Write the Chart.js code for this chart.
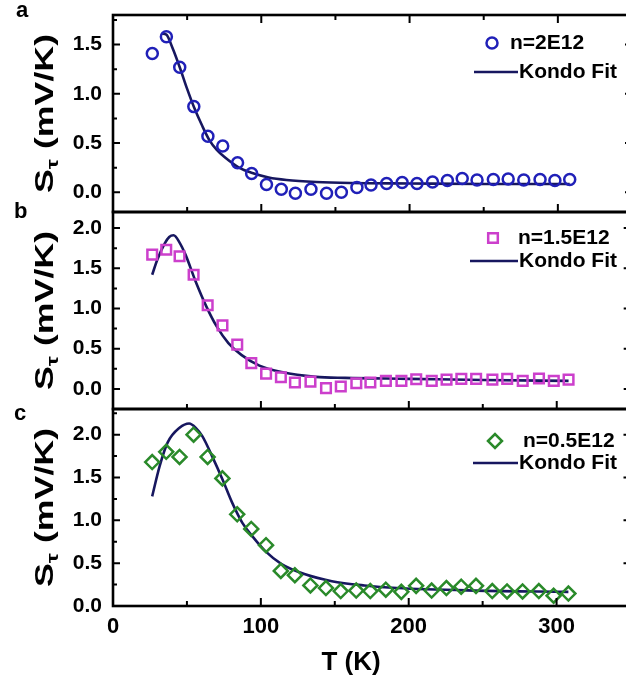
<!DOCTYPE html>
<html><head><meta charset="utf-8">
<script src="https://cdn.jsdelivr.net/npm/chart.js@4.4.1/dist/chart.umd.min.js"></script>
<style>
html,body{margin:0;padding:0;background:#fff;width:626px;height:683px;overflow:hidden;position:relative}
canvas{position:absolute;left:0}
</style></head><body>
<canvas id="ca" width="640" height="232" style="top:0px"></canvas>
<canvas id="cb" width="640" height="239" style="top:190px"></canvas>
<canvas id="cc" width="640" height="296" style="top:387px"></canvas>
<script>
// ---- data ----
const temps = [26.5, 36, 45, 54.5, 64, 74, 84, 93.5, 103.5, 113.5, 123, 133.5, 144, 154, 164.5, 174, 184.5, 195, 205, 215.5, 225.5, 235.5, 245.5, 256.5, 266.5, 277, 288, 298, 308];
const seebeckA = [1.41, 1.58, 1.27, 0.87, 0.57, 0.47, 0.30, 0.19, 0.08, 0.03, -0.01, 0.03, -0.01, 0.00, 0.05, 0.075, 0.09, 0.10, 0.09, 0.105, 0.12, 0.14, 0.125, 0.13, 0.135, 0.125, 0.13, 0.12, 0.13];
const seebeckB = [1.67, 1.73, 1.65, 1.42, 1.04, 0.79, 0.55, 0.32, 0.19, 0.145, 0.08, 0.09, 0.01, 0.03, 0.07, 0.08, 0.10, 0.10, 0.12, 0.10, 0.115, 0.125, 0.125, 0.115, 0.125, 0.10, 0.13, 0.10, 0.115];
const seebeckC = [1.68, 1.80, 1.74, 2.00, 1.74, 1.49, 1.07, 0.90, 0.71, 0.41, 0.36, 0.24, 0.21, 0.175, 0.18, 0.175, 0.19, 0.165, 0.235, 0.18, 0.21, 0.225, 0.235, 0.175, 0.17, 0.17, 0.175, 0.12, 0.145];
const fitTempsA = [33, 36, 40, 45, 50, 55, 60, 65, 70, 75, 85, 95, 105, 117, 137, 160, 200, 250, 308];
const fitValuesA = [1.61, 1.60, 1.47, 1.27, 1.05, 0.85, 0.68, 0.53, 0.43, 0.36, 0.25, 0.19, 0.15, 0.125, 0.105, 0.095, 0.09, 0.085, 0.085];
const fitTempsB = [26.5, 30, 35, 38, 41, 45, 49, 56, 63, 70, 78, 87, 99, 114, 137, 157, 200, 250, 308];
const fitValuesB = [1.42, 1.61, 1.81, 1.89, 1.91, 1.82, 1.67, 1.33, 1.03, 0.78, 0.57, 0.42, 0.29, 0.21, 0.15, 0.137, 0.125, 0.11, 0.10];
const fitTempsC = [26.5, 31.5, 37, 45, 51.5, 56, 60.5, 67, 74, 80.5, 87.5, 94, 103, 114, 130, 148, 170, 192, 245, 308];
const fitValuesC = [1.28, 1.63, 1.91, 2.08, 2.13, 2.08, 1.98, 1.75, 1.48, 1.21, 0.97, 0.82, 0.64, 0.49, 0.37, 0.29, 0.24, 0.21, 0.18, 0.165];
const seriesLabels = ['n=2E12', 'n=1.5E12', 'n=0.5E12'];
const fitLabel = 'Kondo Fit';
const panelLetters = ['a', 'b', 'c'];
const yTitleMain = 'S', yTitleSub = '\u03C4', yTitleRest = ' (mV/K)';
const xTitle = 'T (K)';

// ---- style ----
const FAMILY = '"Liberation Sans", Arial, Helvetica, sans-serif';
const FIT_COLOR = '#17175f';
const isHalf = v => Math.abs(v * 2 - Math.round(v * 2)) < 1e-6;

function stepTicks(step) {
  return s => {
    const t = [];
    for (let v = Math.ceil(s.min / step - 1e-9) * step; v <= s.max + 1e-9; v += step) {
      t.push({ value: Math.round(v * 1000) / 1000 });
    }
    s.ticks = t;
  };
}

function drawMarker(ctx, style, x, y, r, color, lw) {
  ctx.save();
  ctx.strokeStyle = color; ctx.lineWidth = lw;
  ctx.beginPath();
  if (style === 'circle') ctx.arc(x, y, r, 0, Math.PI * 2);
  else if (style === 'rect') { const s = Math.SQRT1_2 * r; ctx.rect(x - s, y - s, 2 * s, 2 * s); }
  else { ctx.moveTo(x - r, y); ctx.lineTo(x, y - r); ctx.lineTo(x + r, y); ctx.lineTo(x, y + r); ctx.closePath(); }
  ctx.stroke();
  ctx.restore();
}

const decoPlugin = {
  id: 'deco',
  afterDraw(chart, args, o) {
    const { ctx, chartArea: a, scales: { x, y } } = chart;
    ctx.save();
    // frame
    ctx.strokeStyle = '#000'; ctx.lineWidth = 2.6;
    ctx.strokeRect(a.left, a.top, a.right - a.left, a.bottom - a.top);
    // inward ticks
    ctx.lineWidth = 2;
    ctx.beginPath();
    x.ticks.forEach(t => {
      const px = x.getPixelForValue(t.value);
      const len = (Math.round(t.value) % 100 === 0) ? 8 : 5;
      ctx.moveTo(px, a.bottom); ctx.lineTo(px, a.bottom - len);
      if (o.topTicks) { ctx.moveTo(px, a.top); ctx.lineTo(px, a.top + len); }
    });
    y.ticks.forEach(t => {
      const py = y.getPixelForValue(t.value);
      const len = isHalf(t.value) ? 7 : 4;
      ctx.moveTo(a.left, py); ctx.lineTo(a.left + len, py);
      ctx.moveTo(a.right, py); ctx.lineTo(a.right - len, py);
    });
    ctx.stroke();
    // panel letter
    ctx.fillStyle = '#000';
    ctx.font = 'bold 22px ' + FAMILY;
    ctx.textBaseline = 'alphabetic'; ctx.textAlign = 'left';
    ctx.fillText(o.letter, o.letterX, o.letterY);
    // y title with subscript
    const size = o.titleSize;
    const fMain = 'bold ' + size + 'px ' + FAMILY;
    const fSub = 'bold ' + Math.round(size * 0.62) + 'px ' + FAMILY;
    ctx.font = fMain; const wS = ctx.measureText(yTitleMain).width; const wR = ctx.measureText(yTitleRest).width;
    ctx.font = fSub; const wT = ctx.measureText(yTitleSub).width;
    const total = wS + wT + wR;
    const cy = (a.top + a.bottom) / 2 + o.titleShift;
    ctx.translate(o.titleX, cy); ctx.rotate(-Math.PI / 2);
    ctx.scale(o.titleStretch, 1);
    const base = size * 0.358;
    let x0 = -total / 2;
    ctx.font = fMain; ctx.fillText(yTitleMain, x0, base); x0 += wS;
    ctx.font = fSub; ctx.fillText(yTitleSub, x0, base + size * 0.22); x0 += wT;
    ctx.font = fMain; ctx.fillText(yTitleRest, x0, base);
    ctx.setTransform(1, 0, 0, 1, 0, 0);
    // legend
    const ds0 = chart.data.datasets[0];
    drawMarker(ctx, ds0.pointStyle, o.lg.mx, o.lg.my, ds0.pointRadius, ds0.borderColor, ds0.pointBorderWidth);
    ctx.font = 'bold 21px ' + FAMILY; ctx.textBaseline = 'middle'; ctx.fillStyle = '#000';
    ctx.fillText(ds0.label, o.lg.tx1, o.lg.my);
    ctx.strokeStyle = FIT_COLOR; ctx.lineWidth = 2.6;
    ctx.beginPath(); ctx.moveTo(o.lg.lx0, o.lg.ly); ctx.lineTo(o.lg.lx1, o.lg.ly); ctx.stroke();
    ctx.fillText(chart.data.datasets[1].label, o.lg.tx2, o.lg.ly);
    // x title
    if (o.xTitle) {
      ctx.font = 'bold 26px ' + FAMILY; ctx.textAlign = 'center'; ctx.textBaseline = 'middle';
      ctx.fillText(xTitle, o.xTitle.x, o.xTitle.y);
    }
    ctx.restore();
  }
};

function makePanel(id, c) {
  const top = c.canvasTop;
  return new Chart(document.getElementById(id), {
    type: 'scatter',
    data: {
      datasets: [
        { label: c.label, data: temps.map((t, i) => ({ x: t, y: c.values[i] })), showLine: false,
          pointStyle: c.pointStyle, pointRadius: c.radius, pointHoverRadius: c.radius, pointBorderWidth: 2.5,
          borderColor: c.color, pointBorderColor: c.color, backgroundColor: 'rgba(0,0,0,0)', pointBackgroundColor: 'rgba(0,0,0,0)' },
        { label: fitLabel, data: c.fitT.map((t, i) => ({ x: t, y: c.fitV[i] })), showLine: true,
          pointRadius: 0, borderColor: FIT_COLOR, borderWidth: 2.6, cubicInterpolationMode: 'monotone', fill: false }
      ]
    },
    options: {
      responsive: false, animation: false, events: [],
      layout: { padding: { top: c.padTop, right: 5.5, bottom: 0, left: 0 } },
      plugins: {
        legend: { display: false }, tooltip: { enabled: false },
        deco: {
          letter: c.letter, letterX: c.letterX, letterY: c.letterY - top,
          topTicks: c.topTicks, titleX: 44, titleSize: 25, titleStretch: 1.43, titleShift: 0,
          lg: { mx: c.lg.mx, my: c.lg.my - top, tx1: c.lg.tx1, lx0: c.lg.lx0, lx1: c.lg.lx1, ly: c.lg.ly - top, tx2: c.lg.tx2 },
          xTitle: c.xTitle ? { x: 351, y: 663 - top } : null
        }
      },
      scales: {
        x: {
          type: 'linear', min: 0, max: 350,
          afterBuildTicks: stepTicks(50),
          ticks: { display: c.showX, autoSkip: false, maxRotation: 0, minRotation: 0,
            color: '#000', padding: 8, font: { family: FAMILY, size: 22, weight: 'bold' },
            callback: v => (Math.round(v) % 100 === 0 && v < 350 ? String(v) : '') },
          grid: { display: false, drawTicks: false }, border: { display: false },
          afterFit: s => { s.height = c.xHeight; }
        },
        y: {
          min: c.ymin, max: c.ymax,
          afterBuildTicks: stepTicks(0.25),
          ticks: { autoSkip: false, color: '#000', padding: 11,
            font: { family: FAMILY, size: 21, weight: 'bold' },
            callback: v => (isHalf(v) ? Number(v).toFixed(1) : '') },
          grid: { display: false, drawTicks: false }, border: { display: false },
          afterFit: s => { s.width = 113; s.paddingTop = 0; s.paddingBottom = 0; }
        }
      }
    },
    plugins: [decoPlugin]
  });
}

makePanel('ca', { canvasTop: 0, padTop: 15, xHeight: 20, showX: false, topTicks: true,
  label: seriesLabels[0], values: seebeckA, fitT: fitTempsA, fitV: fitValuesA,
  pointStyle: 'circle', radius: 5.5, color: '#2020b8', ymin: -0.2, ymax: 1.8,
  letter: panelLetters[0], letterX: 16, letterY: 17,
  lg: { mx: 492, my: 43, tx1: 510, lx0: 474, lx1: 518, ly: 72, tx2: 519 } });

makePanel('cb', { canvasTop: 190, padTop: 22, xHeight: 20, showX: false, topTicks: false,
  label: seriesLabels[1], values: seebeckB, fitT: fitTempsB, fitV: fitValuesB,
  pointStyle: 'rect', radius: 6.8, color: '#cc3fcc', ymin: -0.25, ymax: 2.2,
  letter: panelLetters[1], letterX: 14, letterY: 218,
  lg: { mx: 493, my: 238, tx1: 518, lx0: 470, lx1: 518, ly: 261, tx2: 519 } });

makePanel('cc', { canvasTop: 387, padTop: 22, xHeight: 77, showX: true, topTicks: false, xTitle: true,
  label: seriesLabels[2], values: seebeckC, fitT: fitTempsC, fitV: fitValuesC,
  pointStyle: 'rectRot', radius: 7, color: '#2a8a2a', ymin: 0, ymax: 2.3,
  letter: panelLetters[2], letterX: 14, letterY: 420,
  lg: { mx: 495, my: 441, tx1: 523, lx0: 473, lx1: 518, ly: 463, tx2: 519 } });
</script>
</body></html>
